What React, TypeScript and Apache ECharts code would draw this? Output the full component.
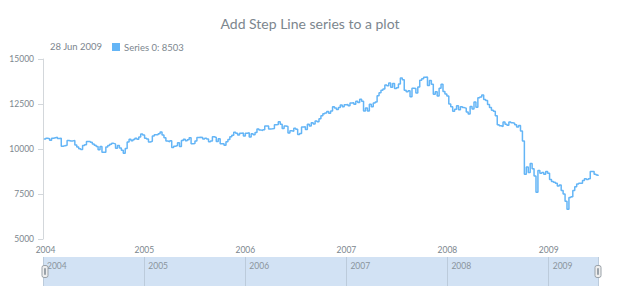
import React, { useEffect, useRef } from "react";
import * as echarts from "echarts";

const chartTitle = "Add Step Line series to a plot";
const seriesName = "Series 0";
const firstWeek = { year: 2004, month: 0, day: 4 };
const axisStart = { year: 2004, month: 0, day: 1 };
const monthNames = ["Jan", "Feb", "Mar", "Apr", "May", "Jun", "Jul", "Aug", "Sep", "Oct", "Nov", "Dec"];

const values2004 = [10550, 10600, 10568, 10488, 10593, 10628, 10650, 10584, 10595, 10150, 10186, 10212, 10470, 10442, 10451, 10472, 10226, 10118, 10012, 9967, 10188, 10242, 10410, 10416, 10371, 10283, 10213, 10140, 9962, 10140, 9815, 9825, 10110, 10195, 10260, 10314, 10284, 10047, 10193, 10055, 9933, 9758, 10027, 10387, 10539, 10456, 10522, 10592, 10543, 10661, 10828, 10783];
const values2005 = [10603, 10558, 10393, 10427, 10716, 10796, 10785, 10841, 10941, 10774, 10630, 10442, 10404, 10461, 10088, 10157, 10193, 10346, 10140, 10471, 10542, 10461, 10513, 10623, 10297, 10303, 10449, 10640, 10651, 10641, 10558, 10600, 10559, 10397, 10447, 10678, 10641, 10419, 10569, 10292, 10287, 10215, 10402, 10531, 10686, 10766, 10931, 10877, 10778, 10875, 10883, 10718];
const values2006 = [10880, 10900, 10667, 10850, 10793, 10919, 11115, 11061, 11022, 11076, 11279, 11280, 11109, 11120, 11137, 11347, 11367, 11520, 11380, 11144, 11278, 11247, 10891, 11014, 10989, 11150, 11091, 10800, 10868, 11219, 11240, 11088, 11381, 11284, 11464, 11392, 11560, 11508, 11679, 11850, 11960, 12002, 12090, 11986, 12108, 12342, 12280, 12194, 12307, 12445, 12343, 12463, 12474];
const values2007 = [12398, 12556, 12565, 12487, 12653, 12581, 12767, 12647, 12114, 12276, 12110, 12481, 12354, 12560, 12612, 12962, 13121, 13265, 13327, 13556, 13508, 13668, 13424, 13640, 13361, 13409, 13612, 13950, 13851, 13266, 13182, 13240, 12900, 13379, 13358, 13114, 13443, 13820, 13896, 13980, 14000, 13522, 13807, 13595, 13043, 13177, 12950, 13372, 13600, 13200, 13050, 12950];
const values2008 = [12500, 12350, 12099, 12207, 12400, 12182, 12348, 12300, 12266, 12050, 11951, 12361, 12216, 12609, 12325, 12849, 12891, 13000, 12745, 12700, 12479, 12300, 12150, 12100, 11843, 11346, 11288, 11250, 11496, 11370, 11326, 11500, 11459, 11428, 11343, 11220, 11300, 11000, 10450, 8600, 9000, 8700, 9200, 8900, 8500, 7600, 8800, 8650, 8700, 8600, 8750, 8650];
const values2009 = [8300, 8200, 8150, 8100, 7950, 8000, 7700, 7500, 7100, 6650, 7300, 7350, 7700, 7900, 8050, 8100, 8100, 8250, 8350, 8300, 8350, 8750, 8750, 8600, 8550, 8503];

const yTicks = { min: 5000, max: 15000, interval: 2500 };

const allValues = [...values2004, ...values2005, ...values2006, ...values2007, ...values2008, ...values2009];
const dates = allValues.map((_, i) => new Date(firstWeek.year, firstWeek.month, firstWeek.day + 7 * i));
const seriesData = allValues.map((v, i) => [dates[i].getTime(), v]);
const lastDate = dates[dates.length - 1];
const lastValue = allValues[allValues.length - 1];
const dateLabel = `${lastDate.getDate()} ${monthNames[lastDate.getMonth()]} ${lastDate.getFullYear()}`;
const minTime = new Date(axisStart.year, axisStart.month, axisStart.day).getTime();
const maxTime = lastDate.getTime();
const YEAR = 365 * 24 * 3600 * 1000;

const FONT = "Lato, 'Open Sans', sans-serif";
const TEXT = "#7c868e";
const LINE = "#64b5f6";

export default function App() {
  const ref = useRef<HTMLDivElement>(null);
  useEffect(() => {
    if (!ref.current) return;
    const chart = echarts.init(ref.current, undefined, { renderer: "svg" });
    const option: any = {
      animation: false,
      backgroundColor: "#ffffff",
      title: {
        text: chartTitle,
        left: "center",
        top: 11,
        textStyle: { fontFamily: FONT, fontSize: 14, fontWeight: "normal", color: TEXT },
      },
      legend: {
        data: [seriesName],
        left: 112,
        top: 42,
        padding: 0,
        icon: "rect",
        itemWidth: 8,
        itemHeight: 8,
        itemGap: 4,
        selectedMode: false,
        formatter: (n: string) => `${n}: ${lastValue}`,
        textStyle: { fontFamily: FONT, fontSize: 9.5, color: TEXT, padding: [0, 0, 0, -1] },
      },
      graphic: [
        {
          type: "text",
          left: 50,
          top: 41,
          style: { text: dateLabel, fontFamily: FONT, fontSize: 9.5, fill: TEXT },
        },
      ],
      grid: [
        { left: 43, right: 22, top: 59, height: 180 },
        { left: 43, right: 22, top: 257, height: 29, show: true, backgroundColor: "#d2e2f4", borderWidth: 0 },
      ],
      xAxis: [
        {
          type: "time",
          gridIndex: 0,
          min: minTime,
          max: maxTime,
          minInterval: YEAR,
          splitNumber: 5,
          axisLine: { show: false },
          axisTick: { show: false },
          splitLine: { show: false },
          axisLabel: {
            formatter: (v: number) => {
              const y = new Date(v).getFullYear();
              return y === axisStart.year ? `{first|${y}}` : String(y);
            },
            rich: { first: { padding: [0, 0, 0, 5], fontFamily: FONT, fontSize: 8.5, color: TEXT } },
            color: TEXT,
            fontFamily: FONT,
            fontSize: 8.5,
            margin: 6,
            showMaxLabel: false,
            alignMinLabel: "left",
          },
        },
        {
          type: "time",
          gridIndex: 1,
          position: "top",
          min: minTime,
          max: maxTime,
          minInterval: YEAR,
          splitNumber: 5,
          axisLine: { show: false },
          axisTick: { show: false },
          splitLine: { show: true, lineStyle: { color: "#bccbdb", width: 1 } },
          axisLabel: {
            inside: true,
            formatter: "{yyyy}",
            align: "left",
            padding: [0, 0, 0, 4],
            color: "#8a949c",
            fontFamily: FONT,
            fontSize: 8.5,
            margin: 4,
            showMaxLabel: false,
          },
        },
      ],
      yAxis: [
        {
          type: "value",
          gridIndex: 0,
          min: yTicks.min,
          max: yTicks.max,
          interval: yTicks.interval,
          axisLine: { show: true, lineStyle: { color: "#d3d7db" } },
          axisTick: { show: true, length: 5, lineStyle: { color: "#d3d7db" } },
          splitLine: { show: false },
          axisLabel: {
            color: TEXT,
            fontFamily: FONT,
            fontSize: 8.5,
            margin: 9,
            formatter: (v: number) => String(v),
          },
        },
        { type: "value", gridIndex: 1, show: false },
      ],
      dataZoom: [
        {
          type: "slider",
          xAxisIndex: 0,
          filterMode: "none",
          start: 0,
          end: 100,
          left: 43,
          right: 22,
          top: 257,
          height: 29,
          showDataShadow: false,
          showDetail: false,
          brushSelect: false,
          moveHandleSize: 0,
          backgroundColor: "rgba(0,0,0,0)",
          borderColor: "rgba(0,0,0,0)",
          fillerColor: "rgba(0,0,0,0)",
          dataBackground: { lineStyle: { opacity: 0 }, areaStyle: { opacity: 0 } },
          handleIcon:
            "path://M2,0 L4,0 Q6,0 6,2 L6,10 Q6,12 4,12 L2,12 Q0,12 0,10 L0,2 Q0,0 2,0 Z M2.5,3 L2.5,9 L3.5,9 L3.5,3 Z",
          handleSize: 12,
          handleStyle: { color: "#eeeeee", borderColor: "#9aa2a9", borderWidth: 1 },
        },
      ],
      series: [
        {
          name: seriesName,
          type: "line",
          step: "end",
          xAxisIndex: 0,
          yAxisIndex: 0,
          data: seriesData,
          showSymbol: false,
          symbol: "none",
          color: LINE,
          lineStyle: { color: LINE, width: 1.5 },
        },
      ],
    };
    chart.setOption(option);
    return () => chart.dispose();
  }, []);
  return <div ref={ref} style={{ position: "absolute", left: 0, top: 0, width: 620, height: 300 }} />;
}
